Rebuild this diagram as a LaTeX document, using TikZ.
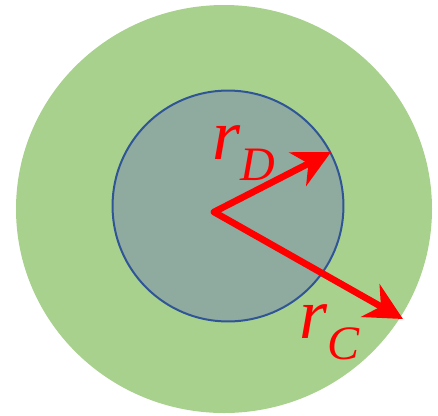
\documentclass[tikz,border=0pt]{standalone}
\usepackage{fontspec}
\setmainfont{Liberation Serif}
\usetikzlibrary{arrows.meta}
\definecolor{ringgreen}{RGB}{169,209,142}
\definecolor{coregray}{RGB}{143,170,158}
\definecolor{coreblue}{RGB}{47,85,151}
\tikzset{
	radius arrow/.style = {red, line width=5pt, line cap=round, -{Stealth[length=28pt, width=28pt, inset=9pt]}},
	radius label/.style = {red, anchor=base west, inner sep=0pt, font=\fontsize{54}{54}\selectfont\itshape}
}
\newcommand{\radlab}[1]{r\raisebox{-0.3em}{\fontsize{36}{36}\selectfont #1}}

\begin{document}
\begin{tikzpicture}[x=0.75pt, y=-0.75pt]
	\useasboundingbox (0,0) rectangle (438,415);
	\fill [ringgreen] (224,209) ellipse (156pt and 153pt);
	\draw [coreblue, line width=1.5pt, fill = coregray] (228,206) circle (86.6pt);
	%\draw [fill = white] (228,206) circle (2);
	\coordinate (O) at (214,212);
	\coordinate (D) at (331,152);
	\coordinate (C) at (403,319);
	\draw [radius arrow] (O) -- (D);
	\draw [radius arrow] (O) -- (C);
	\node [radius label] (rD) at (212,159) {\radlab{D}};
	\node [radius label] (rC) at (299,338) {\radlab{C}};
\end{tikzpicture}
\end{document}
